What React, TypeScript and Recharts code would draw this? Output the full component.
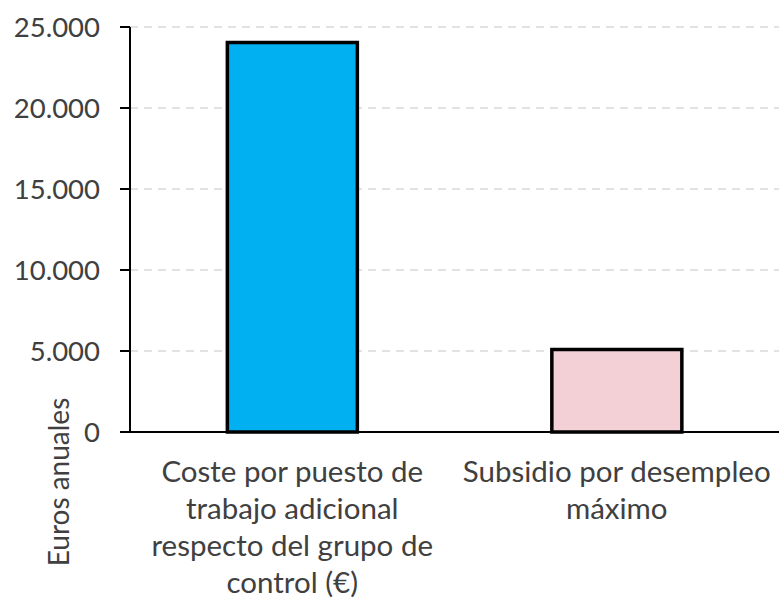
import { Bar, BarChart, CartesianGrid, Cell, XAxis, YAxis } from "recharts";

// categories (line breaks as in the original labels)
const categories = [
  "Coste por puesto de\ntrabajo adicional\nrespecto del grupo de\ncontrol (€)",
  "Subsidio por desempleo\nmáximo",
];
const values = [24050, 5100];
const colors = ["#00b0f0", "#f2d0d6"];
const yTicks = [0, 5000, 10000, 15000, 20000, 25000];

const data = categories.map((name, i) => ({ name, value: values[i] }));

const FONT = "Lato, 'Open Sans', sans-serif";
const TEXT = "#404040";

const fmt = (v: number) => v.toLocaleString("de-DE");

function CategoryTick({ x, y, payload }: any) {
  const lines = String(payload.value).split("\n");
  return (
    <text x={x} y={y + 42} textAnchor="middle" fill={TEXT} fontSize={29.5} fontFamily={FONT}>
      {lines.map((l, i) => (
        <tspan key={i} x={x} dy={i === 0 ? 0 : 37}>
          {l}
        </tspan>
      ))}
    </text>
  );
}

// axis title sits low, beside the zero tick, like in the original
function YTitle({ viewBox }: any) {
  const cx = viewBox.x + 58;
  const cy = viewBox.y + viewBox.height + 50;
  return (
    <text
      x={cx}
      y={cy}
      transform={`rotate(-90 ${cx} ${cy})`}
      textAnchor="middle"
      dominantBaseline="central"
      fill={TEXT}
      fontSize={28}
      fontFamily={FONT}
    >
      Euros anuales
    </text>
  );
}

export default function App() {
  return (
    <div style={{ position: "absolute", left: 0, top: 0, background: "#fff" }}>
      <BarChart
        width={779}
        height={598}
        data={data}
        margin={{ top: 27, right: 0, left: 0, bottom: 0 }}
        barCategoryGap="30%"
      >
        <CartesianGrid
          vertical={false}
          stroke="#d9d9d9"
          strokeDasharray="8 6"
          strokeWidth={1.5}
        />
        <XAxis
          dataKey="name"
          interval={0}
          tickLine={false}
          axisLine={{ stroke: "#000", strokeWidth: 2 }}
          tick={<CategoryTick />}
          height={166}
        />
        <YAxis
          width={130}
          domain={[0, 25000]}
          ticks={yTicks}
          tickFormatter={fmt}
          tickSize={10}
          tickMargin={20}
          axisLine={{ stroke: "#000", strokeWidth: 2 }}
          tickLine={{ stroke: "#000", strokeWidth: 2 }}
          tick={{ fill: TEXT, fontSize: 27.5, fontFamily: FONT }}
          label={<YTitle />}
        />
        <Bar dataKey="value" stroke="#000" strokeWidth={3.5} isAnimationActive={false}>
          {data.map((_, i) => (
            <Cell key={i} fill={colors[i]} />
          ))}
        </Bar>
      </BarChart>
    </div>
  );
}
